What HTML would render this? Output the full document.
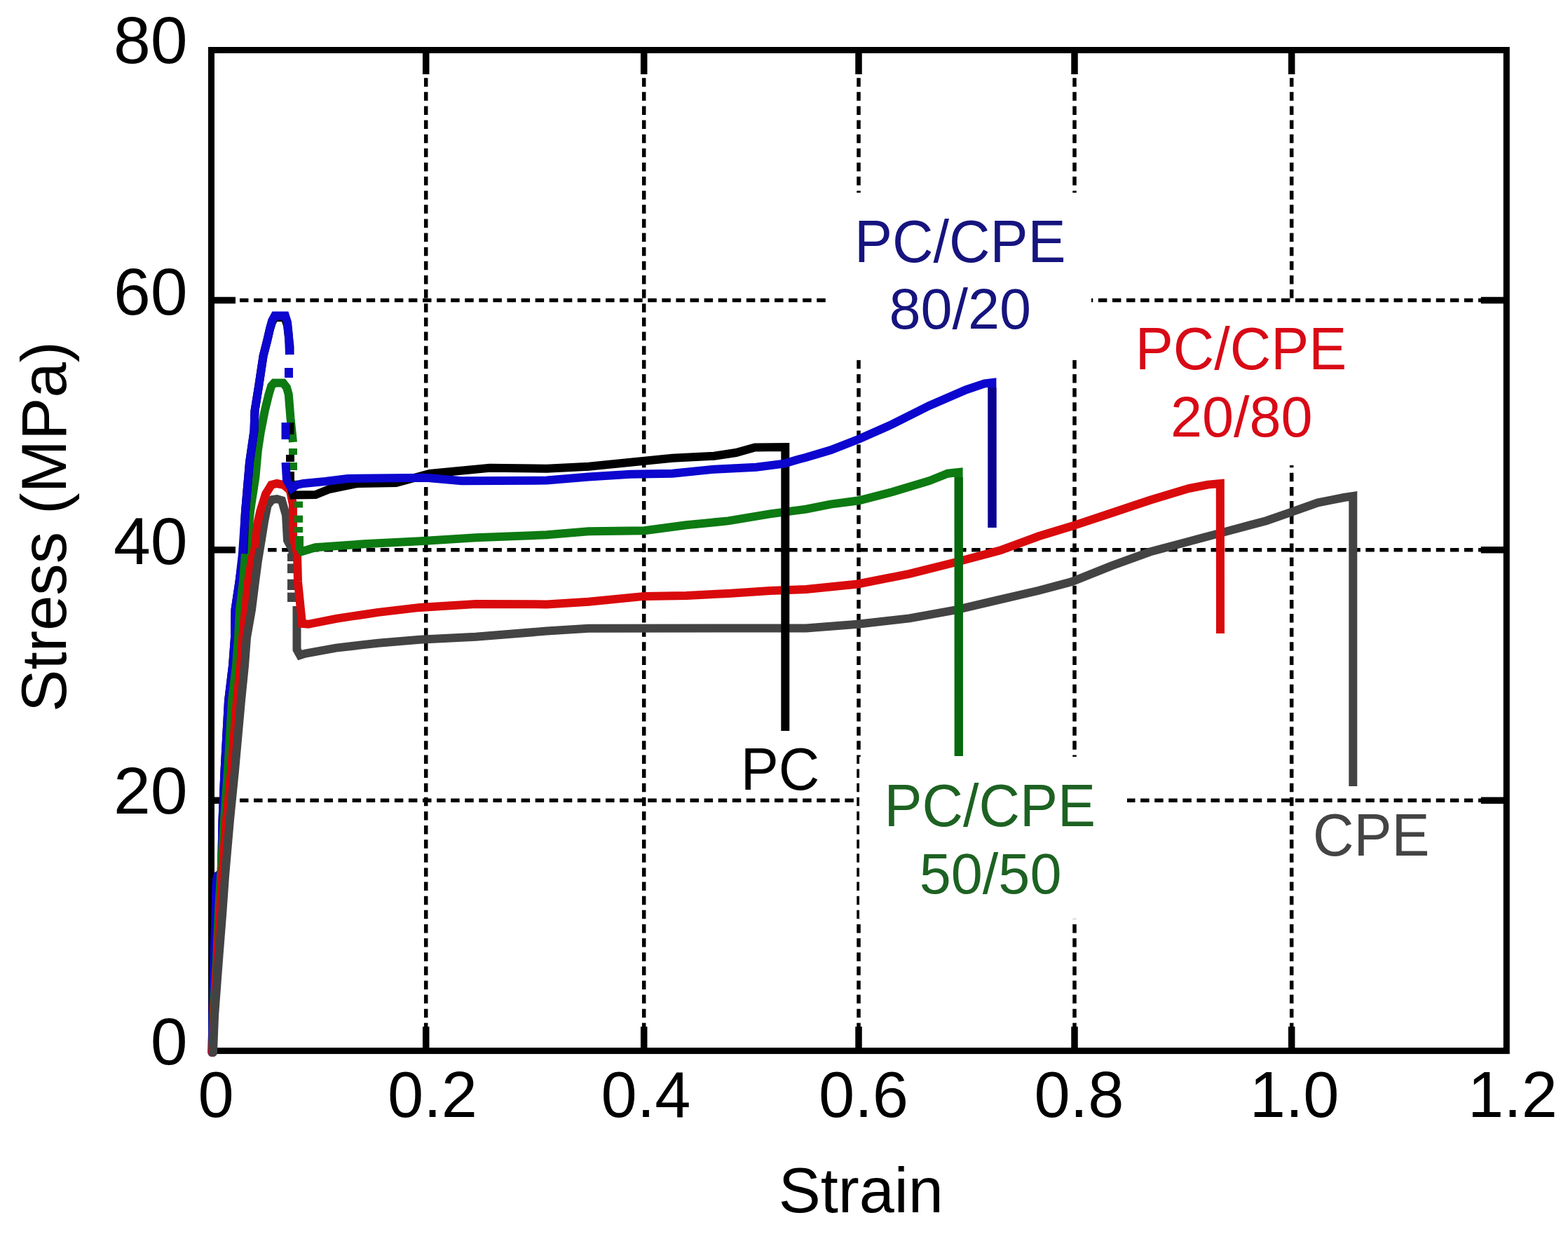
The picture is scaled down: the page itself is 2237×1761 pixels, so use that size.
<!DOCTYPE html>
<html><head><meta charset="utf-8"><title>Stress-strain curves of PC/CPE blends</title>
<style>html,body{margin:0;padding:0;background:#fff;}svg{display:block;}</style></head><body>
<svg width="2237" height="1761" viewBox="0 0 2237 1761">
<rect x="0" y="0" width="2237" height="1761" fill="#fff"/>
<g stroke="#000" stroke-width="5.5" fill="none">
<g stroke-dasharray="12.5 7.63" stroke-dashoffset="0.6"><line x1="607.7" y1="71.5" x2="607.7" y2="1499.6"/><line x1="918.7" y1="71.5" x2="918.7" y2="1499.6"/><line x1="1225.0" y1="71.5" x2="1225.0" y2="1499.6"/><line x1="1533.0" y1="71.5" x2="1533.0" y2="1499.6"/><line x1="1842.7" y1="71.5" x2="1842.7" y2="1499.6"/></g>
<g stroke-dasharray="12.5 7.58" stroke-dashoffset="-0.3"><line x1="301.5" y1="1142.2" x2="2149.3" y2="1142.2"/><line x1="301.5" y1="784.8" x2="2149.3" y2="784.8"/><line x1="301.5" y1="428.6" x2="2149.3" y2="428.6"/></g>
</g>
<g fill="#fff">
<rect x="1179" y="275" width="378" height="238.5"/>
<rect x="1585" y="432" width="373" height="232"/>
<rect x="1226" y="1080" width="382" height="231"/>
</g>
<g stroke="#000" stroke-width="9.5"><line x1="607.7" y1="71.5" x2="607.7" y2="106.0"/><line x1="607.7" y1="1499.6" x2="607.7" y2="1465.1"/><line x1="918.7" y1="71.5" x2="918.7" y2="106.0"/><line x1="918.7" y1="1499.6" x2="918.7" y2="1465.1"/><line x1="1225.0" y1="71.5" x2="1225.0" y2="106.0"/><line x1="1225.0" y1="1499.6" x2="1225.0" y2="1465.1"/><line x1="1533.0" y1="71.5" x2="1533.0" y2="106.0"/><line x1="1533.0" y1="1499.6" x2="1533.0" y2="1465.1"/><line x1="1842.7" y1="71.5" x2="1842.7" y2="106.0"/><line x1="1842.7" y1="1499.6" x2="1842.7" y2="1465.1"/><line x1="301.5" y1="1142.2" x2="336.0" y2="1142.2"/><line x1="2149.3" y1="1142.2" x2="2112.8" y2="1142.2"/><line x1="301.5" y1="784.8" x2="336.0" y2="784.8"/><line x1="2149.3" y1="784.8" x2="2112.8" y2="784.8"/><line x1="301.5" y1="428.6" x2="336.0" y2="428.6"/><line x1="2149.3" y1="428.6" x2="2112.8" y2="428.6"/></g>
<rect x="301.5" y="71.5" width="1847.8000000000002" height="1428.1" fill="none" stroke="#000" stroke-width="9"/>
<g fill="none" stroke-width="12" stroke-linejoin="round" stroke-linecap="round">
<polyline stroke="#000000" points="302.5,1502.0 304.0,1420.0 306.5,1340.0 308.5,1260.0 310.0,1250.0 316.0,1246.0 317.5,1170.0 320.5,1100.0 326.0,1000.0 332.0,950.0 335.0,910.0 335.5,870.0 341.5,830.0 347.0,790.0"/>
<polyline stroke="#0c06cf" points="302.5,1502.0 304.0,1420.0 306.5,1340.0 308.5,1260.0 310.0,1250.0 316.0,1246.0 317.5,1170.0 320.5,1100.0 326.0,1000.0 332.0,950.0 335.0,910.0 335.5,870.0 341.5,830.0 346.0,790.0"/>
<polyline stroke="#0d7a12" points="303.0,1502.0 305.0,1440.0 309.0,1370.0 312.0,1300.0 315.0,1250.0 320.0,1170.0 325.0,1100.0 331.0,1000.0 337.0,950.0 340.0,910.0 342.0,870.0 347.0,830.0 350.0,790.0"/>
<polyline stroke="#d90a0c" points="303.0,1502.0 306.0,1440.0 310.0,1370.0 314.0,1300.0 317.0,1250.0 323.0,1170.0 330.0,1100.0 338.0,1000.0 343.0,950.0 346.0,910.0 350.0,870.0 354.0,830.0 359.0,800.0 362.8,782.0"/>
<polyline stroke="#434343" points="304.0,1502.0 306.0,1450.0 312.0,1370.0 317.5,1300.0 321.0,1250.0 328.0,1170.0 335.0,1100.0 344.0,1000.0 349.0,950.0 352.0,910.0 359.0,870.0 364.0,830.0 368.0,800.0 372.8,771.0"/>
</g>
<g fill="none" stroke-width="12" stroke-linejoin="miter" stroke-linecap="butt">
<polyline stroke="#434343" points="372.8,771.0 377.3,743.0 381.7,721.0 388.0,713.0 395.0,712.0 402.0,714.0 408.0,735.0 410.0,771.0 417.5,785.0 417.5,800.0"/><polyline stroke="#434343" points="423.5,865.0 423.5,927.0 428.0,935.0 435.8,932.6 479.6,924.6 539.4,917.7 599.0,912.7 678.7,908.7 780.0,900.6 839.7,896.7 1150.0,896.4 1223.7,890.7 1297.5,882.4 1363.8,870.4 1426.5,855.7 1481.8,842.8 1530.0,829.9 1585.3,807.7 1640.6,787.5 1695.9,772.7 1751.2,758.0 1806.5,743.2 1843.4,730.3 1880.2,717.4 1900.2,713.4 1917.1,710.0 1930.3,708.0 1930.3,1122.0"/>
<line stroke="#434343" x1="416" y1="790" x2="416" y2="801"/><line stroke="#434343" x1="416" y1="804.5" x2="416" y2="818"/><line stroke="#434343" x1="416" y1="826.7" x2="416" y2="842"/><line stroke="#434343" x1="416" y1="845.6" x2="416" y2="859"/>
<polyline stroke="#d90a0c" points="362.8,782.0 366.2,752.0 371.2,730.0 379.0,705.0 387.0,692.0 395.0,690.0 405.0,692.0 414.0,700.0 417.9,720.0 418.0,765.0 424.0,790.0 425.0,830.0 429.0,870.0 431.0,890.0 439.8,890.8 479.6,882.8 539.4,873.9 599.0,866.9 678.7,861.9 780.0,862.4 839.7,858.8 919.4,850.9 979.1,849.9 1038.8,846.9 1098.6,842.9 1150.0,840.9 1223.7,833.5 1297.5,818.8 1363.8,802.2 1426.5,785.6 1481.8,765.3 1530.0,750.6 1585.3,732.2 1640.6,713.7 1695.9,697.1 1723.5,691.6 1740.8,690.0 1741.0,904.0"/>
<polyline stroke="#0d7a12" points="350.0,790.0 352.3,777.0 357.3,727.0 364.5,680.0 367.8,643.0 371.7,617.0 377.8,586.0 383.4,563.0 387.0,551.0 391.0,546.5 404.0,546.5 409.0,553.0 411.8,563.0 414.5,597.0 416.8,619.0 418.0,631.0"/><polyline stroke="#0d7a12" points="427.0,765.0 427.0,781.0 431.0,787.0 449.8,781.3 519.5,776.3 599.0,772.3 678.7,767.3 780.0,763.3 839.7,758.3 919.4,757.3 979.1,749.3 1038.8,743.4 1098.6,733.4 1150.0,726.6 1185.0,719.6 1225.5,714.3 1273.0,702.0 1325.7,686.2 1352.0,675.7 1367.6,674.0 1367.8,1079.0"/>
<line stroke="#0d7a12" x1="418" y1="640" x2="418" y2="649"/><line stroke="#0d7a12" x1="418" y1="660" x2="418" y2="671"/><line stroke="#0d7a12" x1="418" y1="685.6" x2="418" y2="695.6"/><line stroke="#0d7a12" x1="426" y1="715.6" x2="426" y2="724.5"/><line stroke="#0d7a12" x1="426" y1="735.6" x2="426" y2="745.7"/><line stroke="#0d7a12" x1="426" y1="752" x2="426" y2="760"/>
<line stroke="#07680d" x1="1367.8" y1="681" x2="1367.8" y2="1079"/>
<polyline stroke="#000000" points="347.0,790.0 350.0,730.0 356.0,660.0 362.5,615.0 363.5,586.0 369.0,552.0 372.3,530.0 375.6,508.0 381.2,486.0 385.0,470.0 388.0,460.0 392.0,453.0 406.0,453.0 410.0,464.0 413.5,495.0 413.5,506.0"/><polyline stroke="#000000" points="414.0,673.0 414.0,690.0 418.0,706.5 450.0,706.0 470.0,698.0 510.0,690.0 565.0,689.0 613.0,676.0 698.6,667.8 780.0,668.7 839.7,665.7 899.5,659.7 959.2,653.8 1018.9,650.8 1050.0,646.0 1077.0,638.5 1120.3,638.0 1120.3,1043.0"/>
<line stroke="#000000" x1="413.5" y1="603" x2="413.5" y2="620"/><line stroke="#000000" x1="414" y1="649" x2="414" y2="659"/>
<polyline stroke="#0c06cf" points="346.0,790.0 350.0,730.0 356.0,660.0 362.5,615.0 363.5,586.0 369.0,552.0 372.3,530.0 375.6,508.0 381.2,486.0 385.0,469.0 388.0,458.0 392.0,450.5 407.0,450.5 410.0,460.0 412.0,480.0 413.0,506.0"/><polyline stroke="#0c06cf" points="407.5,660.0 409.0,685.0 416.0,697.0 423.5,692.0 433.0,690.0 464.0,687.0 496.0,683.0 608.0,681.7 658.8,686.2 780.0,685.6 839.7,680.6 899.5,676.7 959.2,675.7 1018.9,669.7 1078.7,666.7 1118.5,661.7 1138.4,655.7 1150.0,652.8 1185.1,642.3 1225.5,626.5 1273.0,605.4 1325.7,579.0 1378.3,556.2 1404.7,547.4 1415.4,546.0 1415.5,753.0"/>
<line stroke="#0c06cf" x1="412" y1="525" x2="412" y2="539"/><line stroke="#0c06cf" x1="407.5" y1="603" x2="407.5" y2="627"/>
<line stroke="#0a038f" x1="1415.5" y1="553" x2="1415.5" y2="753"/>
</g>
<g font-family='"Liberation Sans", Arial, Helvetica, sans-serif' font-size="92" fill="#000">
<text x="267.6" y="90.3" font-size="95" text-anchor="end">80</text>
<text x="267.6" y="448.5" font-size="95" text-anchor="end">60</text>
<text x="267.6" y="804.5" font-size="95" text-anchor="end">40</text>
<text x="267.6" y="1161" font-size="95" text-anchor="end">20</text>
<text x="267.6" y="1519" font-size="95" text-anchor="end">0</text>
<text x="308" y="1594" text-anchor="middle">0</text>
<text x="617" y="1594" text-anchor="middle">0.2</text>
<text x="921.5" y="1594" text-anchor="middle">0.4</text>
<text x="1232" y="1594" text-anchor="middle">0.6</text>
<text x="1539.4" y="1594" text-anchor="middle">0.8</text>
<text x="1846.6" y="1594" text-anchor="middle">1.0</text>
<text x="2158" y="1594" text-anchor="middle">1.2</text>
</g>
<text x="1228.2" y="1730" font-family='"Liberation Sans", Arial, Helvetica, sans-serif' font-size="90" text-anchor="middle" fill="#000">Strain</text>
<text transform="translate(94 1016) rotate(-90)" font-family='"Liberation Sans", Arial, Helvetica, sans-serif' font-size="90.7" fill="#000">Stress (MPa)</text>
<g font-family='"Liberation Sans", Arial, Helvetica, sans-serif' font-size="81" text-anchor="middle">
<text transform="translate(1369.7 373.8) scale(1 1.045)" fill="#16147e">PC/CPE</text><text x="1369.8" y="469" fill="#16147e">80/20</text>
<text transform="translate(1770.6 526.8) scale(1 1.045)" fill="#d80a16">PC/CPE</text><text x="1771.3" y="622.8" fill="#d80a16">20/80</text>
<text transform="translate(1412.2 1178.6) scale(1 1.045)" fill="#1d6222">PC/CPE</text><text x="1413.1" y="1274.5" fill="#1d6222">50/50</text>
<text transform="translate(1112.9 1127.3) scale(1 1.045)" fill="#000">PC</text>
<text transform="translate(1956.3 1220.6) scale(1 1.045)" fill="#444">CPE</text>
</g>
</svg></body></html>
